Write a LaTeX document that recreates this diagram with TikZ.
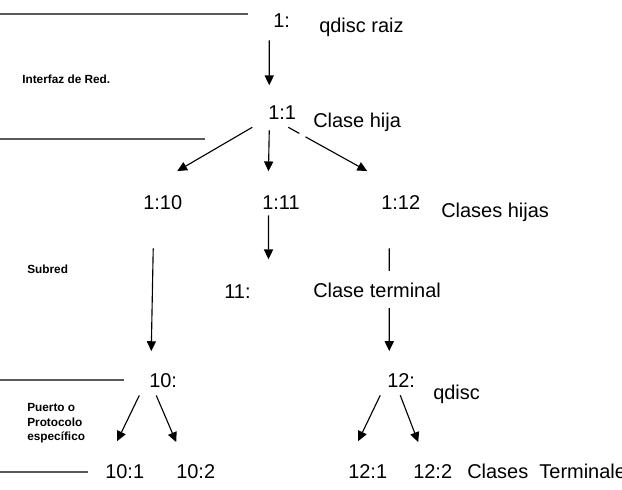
\documentclass[tikz,border=0pt]{standalone}
\usepackage{fontspec}
\setmainfont{Liberation Sans}
\usetikzlibrary{arrows.meta,calc}

\begin{document}
\begin{tikzpicture}[x=0.025cm, y=-0.025cm,
  every node/.style={inner sep=0pt, anchor=base west, font=\fontsize{14.2}{17}\selectfont},
  nota/.style={anchor=north west, align=left, font=\fontsize{8.4}{10.3}\selectfont\bfseries},
  flecha/.style={-{Triangle[length=7pt,width=6.5pt]}, line width=0.8pt},
  sep/.style={black!65, line width=0.9pt}]
\useasboundingbox (0,0) rectangle (622,489);

% separadores de la izquierda
\draw[sep] (0,14) -- (248,14);
\draw[sep] (0,139) -- (205,139);
\draw[sep] (0,380) -- (124,380);
\draw[sep] (0,472) -- (88,472);

\node[nota, anchor=base west] (red) at (22,83) {Interfaz de Red.};
\node[nota, anchor=base west] (subred) at (27,273) {Subred};
\node[nota] (puerto) at (27,403.5) {Puerto o\\Protocolo\\específico};

% arbol de clases
\node (n1) at (273,27) {1:};
\node (raiz) at (319,32) {qdisc raiz};
\node (n11) at (268,119) {1:1};
\node (hija) at (313,127) {Clase hija};
\node (n110) at (143,209) {1:10};
\node (n111) at (262,209) {1:11};
\node (n112) at (381,209) {1:12};
\node (hijas) at (441,217) {Clases hijas};
\node (t11) at (224,298) {11:};
\node (n10) at (149,387) {10:};
\node (n12) at (387,387) {12:};
\node (qd) at (433,399) {qdisc};
\node (n101) at (105,478) {10:1};
\node (n102) at (176,478) {10:2};
\node (n121) at (348,478) {12:1};
\node (n122) at (413,478) {12:2};
\node (term) at (467,478) {Clases\ \ Terminales};

\draw[flecha] ($(n1.south)+(-12.4,13)$) -- ($(n11.north)+(-12.9,-19.7)$);
\draw[flecha] ($(n11.south)+(-29.9,8)$) -- ($(n110.north)+(14.5,-23.7)$);
\draw[flecha] ($(n11.south)+(-12.9,11)$) -- ($(n111.north)+(-12.5,-23.7)$);
\draw[flecha, dash pattern=on 9pt off 5pt on 200pt] ($(n11.south)+(6.1,8)$) -- ($(n112.north)+(-33.5,-23.7)$);
\draw[flecha] ($(n111.south)+(-12.5,6)$) -- ($(t11.north)+(31.1,-24.7)$);
\draw[flecha] ($(n110.south)+(-9.5,39)$) -- ($(n10.north)+(-11.9,-21.7)$);
\draw[flecha] ($(n112.south)+(-11.5,39)$) -- ($(n12.north)+(-11.9,-21.7)$);
\draw[flecha] ($(n10.south)+(-23.9,8)$) -- ($(n101.north)+(-7.5,-22.7)$);
\draw[flecha] ($(n10.south)+(-6.9,8)$) -- ($(n102.north)+(-19.5,-21.7)$);
\draw[flecha] ($(n12.south)+(-20.9,8)$) -- ($(n121.north)+(-9.5,-22.7)$);
\draw[flecha] ($(n12.south)+(-0.9,8)$) -- ($(n122.north)+(-14.5,-21.7)$);

% tapa la linea de 1:12
\node[fill=white, inner ysep=8pt] (terminal) at (313,297) {Clase terminal};
\end{tikzpicture}
\end{document}
